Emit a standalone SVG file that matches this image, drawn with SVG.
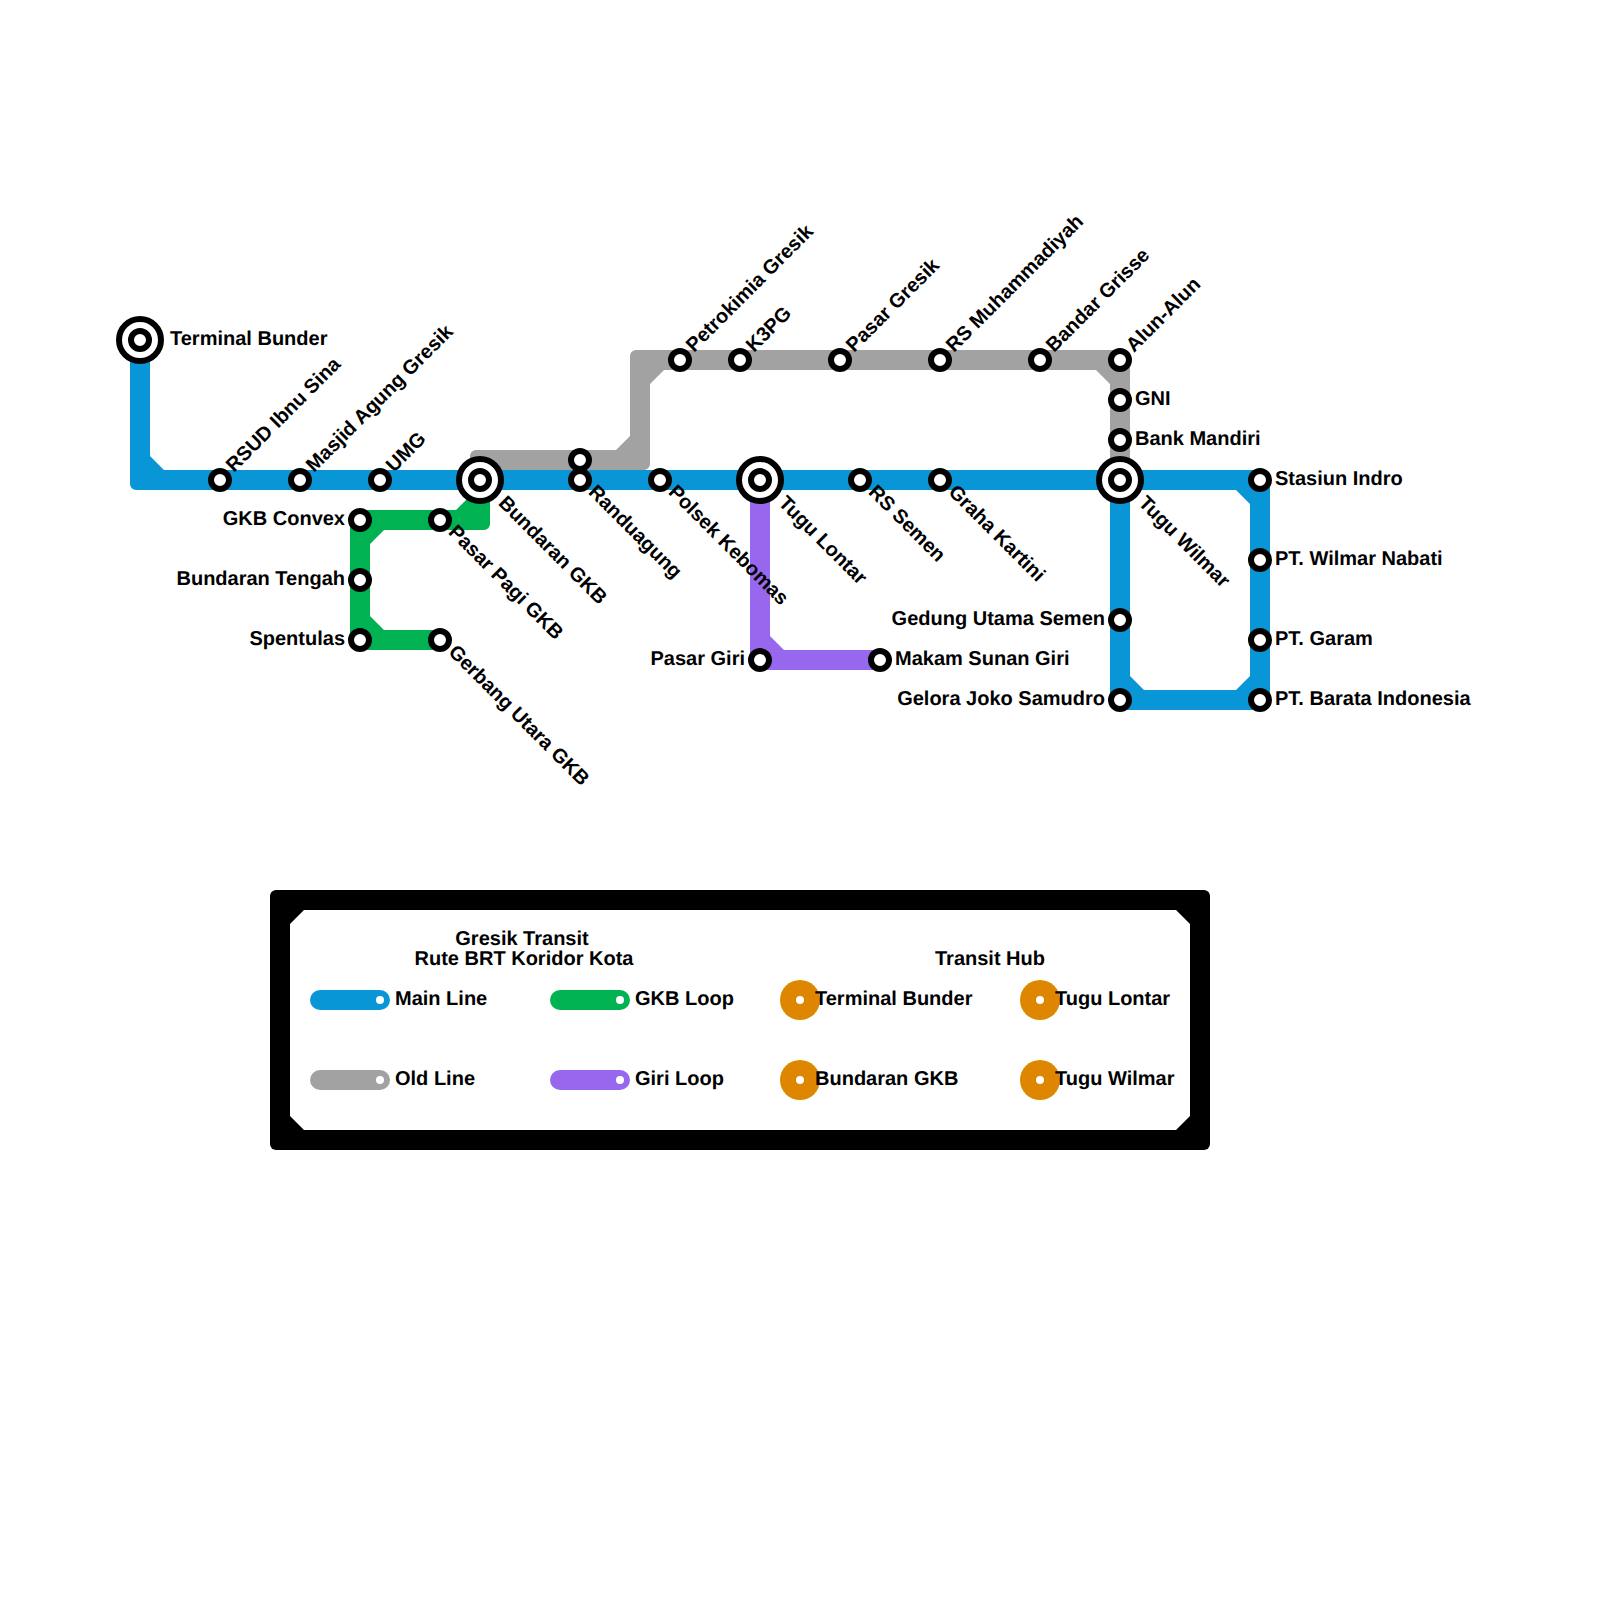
<svg xmlns="http://www.w3.org/2000/svg" width="1600" height="1600" viewBox="0 0 1600 1600">
<style>
text{font-family:"Liberation Sans",Arial,sans-serif;font-weight:700;font-size:20px;fill:#000;text-rendering:geometricPrecision}
.end{text-anchor:end}
.mid{text-anchor:middle}
.st{fill:#fff;stroke:#000;stroke-width:6}
.blue{fill:#0896d7}.green{fill:#00b251}.gray{fill:#a2a2a2}.purple{fill:#9768ee}.orange{fill:#df8600}
.dot{fill:#fff}
</style>
<rect width="1600" height="1600" fill="#fff"/>
<g id="connectors">
<path id="old-line" class="gray" d="M470 470V456A6 6 0 0 1 476 450H616L630 436V356A6 6 0 0 1 636 350H1124A6 6 0 0 1 1130 356V480H1110V384L1096 370H664L650 384V464A6 6 0 0 1 644 470Z"/>
<path id="main-line" class="blue" d="M130 340H150V456L164 470H1264A6 6 0 0 1 1270 476V704A6 6 0 0 1 1264 710H1116A6 6 0 0 1 1110 704V480H1130V676L1144 690H1236L1250 676V504L1236 490H136A6 6 0 0 1 130 484Z"/>
<path id="gkb-loop" class="green" d="M470 480H490V524A6 6 0 0 1 484 530H384L370 544V616L384 630H440V650H356A6 6 0 0 1 350 644V516A6 6 0 0 1 356 510H456L470 496Z"/>
<path id="giri-loop" class="purple" d="M750 480H770V636L784 650H880V670H756A6 6 0 0 1 750 664Z"/>
</g>
<g id="n-terminal-bunder"><circle class="st" cx="140" cy="340" r="21"/><circle class="st" cx="140" cy="340" r="9"/><text x="170" y="345">Terminal Bunder</text></g>
<g id="n-rsud"><circle class="st" cx="220" cy="480" r="9"/><text transform="translate(234 473) rotate(-45)">RSUD Ibnu Sina</text></g>
<g id="n-masjid"><circle class="st" cx="300" cy="480" r="9"/><text transform="translate(314 473) rotate(-45)">Masjid Agung Gresik</text></g>
<g id="n-umg"><circle class="st" cx="380" cy="480" r="9"/><text transform="translate(394 473) rotate(-45)">UMG</text></g>
<g id="n-bundaran-gkb"><circle class="st" cx="480" cy="480" r="21"/><circle class="st" cx="480" cy="480" r="9"/><text transform="translate(497.5 504) rotate(45)">Bundaran GKB</text></g>
<g id="n-old-randuagung"><circle class="st" cx="580" cy="460" r="9"/></g>
<g id="n-randuagung"><circle class="st" cx="580" cy="480" r="9"/><text transform="translate(587.5 493) rotate(45)">Randuagung</text></g>
<g id="n-polsek"><circle class="st" cx="660" cy="480" r="9"/><text transform="translate(667.5 493) rotate(45)">Polsek Kebomas</text></g>
<g id="n-tugu-lontar"><circle class="st" cx="760" cy="480" r="21"/><circle class="st" cx="760" cy="480" r="9"/><text transform="translate(777.5 504) rotate(45)">Tugu Lontar</text></g>
<g id="n-rs-semen"><circle class="st" cx="860" cy="480" r="9"/><text transform="translate(867.5 493) rotate(45)">RS Semen</text></g>
<g id="n-graha"><circle class="st" cx="940" cy="480" r="9"/><text transform="translate(947.5 493) rotate(45)">Graha Kartini</text></g>
<g id="n-tugu-wilmar"><circle class="st" cx="1120" cy="480" r="21"/><circle class="st" cx="1120" cy="480" r="9"/><text transform="translate(1137.5 504) rotate(45)">Tugu Wilmar</text></g>
<g id="n-stasiun"><circle class="st" cx="1260" cy="480" r="9"/><text x="1275" y="485">Stasiun Indro</text></g>
<g id="n-wilmar-nabati"><circle class="st" cx="1260" cy="560" r="9"/><text x="1275" y="565">PT. Wilmar Nabati</text></g>
<g id="n-garam"><circle class="st" cx="1260" cy="640" r="9"/><text x="1275" y="645">PT. Garam</text></g>
<g id="n-barata"><circle class="st" cx="1260" cy="700" r="9"/><text x="1275" y="705">PT. Barata Indonesia</text></g>
<g id="n-gedung"><circle class="st" cx="1120" cy="620" r="9"/><text class="end" x="1105" y="625">Gedung Utama Semen</text></g>
<g id="n-gelora"><circle class="st" cx="1120" cy="700" r="9"/><text class="end" x="1105" y="705">Gelora Joko Samudro</text></g>
<g id="n-bank"><circle class="st" cx="1120" cy="440" r="9"/><text x="1135" y="445">Bank Mandiri</text></g>
<g id="n-gni"><circle class="st" cx="1120" cy="400" r="9"/><text x="1135" y="405">GNI</text></g>
<g id="n-alun"><circle class="st" cx="1120" cy="360" r="9"/><text transform="translate(1134 353) rotate(-45)">Alun-Alun</text></g>
<g id="n-bandar"><circle class="st" cx="1040" cy="360" r="9"/><text transform="translate(1054 353) rotate(-45)">Bandar Grisse</text></g>
<g id="n-muh"><circle class="st" cx="940" cy="360" r="9"/><text transform="translate(954 353) rotate(-45)">RS Muhammadiyah</text></g>
<g id="n-pasar-gresik"><circle class="st" cx="840" cy="360" r="9"/><text transform="translate(854 353) rotate(-45)">Pasar Gresik</text></g>
<g id="n-k3pg"><circle class="st" cx="740" cy="360" r="9"/><text transform="translate(754 353) rotate(-45)">K3PG</text></g>
<g id="n-petrokimia"><circle class="st" cx="680" cy="360" r="9"/><text transform="translate(694 353) rotate(-45)">Petrokimia Gresik</text></g>
<g id="n-gkb-convex"><circle class="st" cx="360" cy="520" r="9"/><text class="end" x="345" y="525">GKB Convex</text></g>
<g id="n-tengah"><circle class="st" cx="360" cy="580" r="9"/><text class="end" x="345" y="585">Bundaran Tengah</text></g>
<g id="n-spentulas"><circle class="st" cx="360" cy="640" r="9"/><text class="end" x="345" y="645">Spentulas</text></g>
<g id="n-pasar-pagi"><circle class="st" cx="440" cy="520" r="9"/><text transform="translate(447.5 533) rotate(45)">Pasar Pagi GKB</text></g>
<g id="n-gerbang"><circle class="st" cx="440" cy="640" r="9"/><text transform="translate(447.5 653) rotate(45)">Gerbang Utara GKB</text></g>
<g id="n-pasar-giri"><circle class="st" cx="760" cy="660" r="9"/><text class="end" x="745" y="665">Pasar Giri</text></g>
<g id="n-makam"><circle class="st" cx="880" cy="660" r="9"/><text x="895" y="665">Makam Sunan Giri</text></g>
<g id="legend">
<path fill="#000" d="M276 890H1204A6 6 0 0 1 1210 896V1144A6 6 0 0 1 1204 1150H276A6 6 0 0 1 270 1144V896A6 6 0 0 1 276 890Z"/>
<path fill="#fff" d="M304 910H1176L1190 924V1116L1176 1130H304L290 1116V924Z"/>
<text class="mid" x="522" y="945">Gresik Transit</text>
<text class="mid" x="524" y="965">Rute BRT Koridor Kota</text>
<text class="mid" x="990" y="965">Transit Hub</text>
<rect class="blue" x="310" y="990" width="80" height="20" rx="10"/><circle class="dot" cx="380" cy="1000" r="4"/><text x="395" y="1005">Main Line</text>
<rect class="gray" x="310" y="1070" width="80" height="20" rx="10"/><circle class="dot" cx="380" cy="1080" r="4"/><text x="395" y="1085">Old Line</text>
<rect class="green" x="550" y="990" width="80" height="20" rx="10"/><circle class="dot" cx="620" cy="1000" r="4"/><text x="635" y="1005">GKB Loop</text>
<rect class="purple" x="550" y="1070" width="80" height="20" rx="10"/><circle class="dot" cx="620" cy="1080" r="4"/><text x="635" y="1085">Giri Loop</text>
<circle class="orange" cx="800" cy="1000" r="20"/><circle class="dot" cx="800" cy="1000" r="4"/><text x="815" y="1005">Terminal Bunder</text>
<circle class="orange" cx="800" cy="1080" r="20"/><circle class="dot" cx="800" cy="1080" r="4"/><text x="815" y="1085">Bundaran GKB</text>
<circle class="orange" cx="1040" cy="1000" r="20"/><circle class="dot" cx="1040" cy="1000" r="4"/><text x="1055" y="1005">Tugu Lontar</text>
<circle class="orange" cx="1040" cy="1080" r="20"/><circle class="dot" cx="1040" cy="1080" r="4"/><text x="1055" y="1085">Tugu Wilmar</text>
</g>
</svg>
